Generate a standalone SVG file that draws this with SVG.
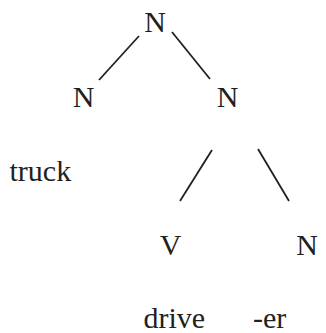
<svg xmlns="http://www.w3.org/2000/svg" width="326" height="333" viewBox="0 0 326 333">
<style>
text{font-family:"Liberation Serif","Times New Roman",serif;font-size:30px;fill:#231f20}
.c{text-anchor:middle}
line{stroke:#231f20;stroke-width:1.8;stroke-linecap:butt}
</style>
<rect width="326" height="333" fill="#fff"/>
<g id="connectors">
<line x1="139" y1="36" x2="99" y2="80"/>
<line x1="172" y1="32" x2="210" y2="79"/>
<line x1="212" y1="150" x2="180" y2="201"/>
<line x1="258" y1="149" x2="289" y2="201"/>
</g>
<g id="n-root"><text class="c" x="155" y="32">N</text></g>
<g id="n-left"><text class="c" x="83.5" y="107">N</text></g>
<g id="n-right"><text class="c" x="227.5" y="107">N</text></g>
<g id="w-truck"><text x="9.5" y="181">truck</text></g>
<g id="n-v"><text class="c" x="170.5" y="255">V</text></g>
<g id="n-n"><text class="c" x="307" y="255">N</text></g>
<g id="w-drive"><text x="143.5" y="328">drive</text></g>
<g id="w-er"><text x="253" y="328">-er</text></g>
</svg>
